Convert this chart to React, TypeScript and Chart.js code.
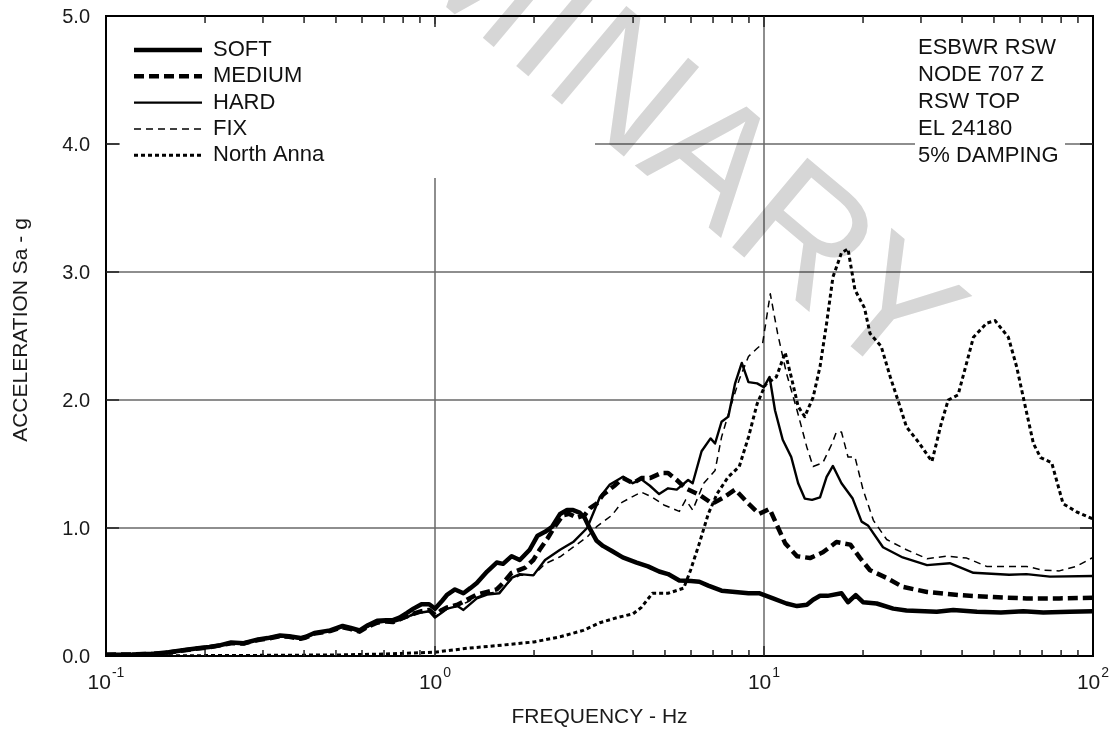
import React, { useEffect, useRef } from 'react';
import { Chart, registerables } from 'chart.js';

Chart.register(...registerables);

// ---------------- DATA ----------------
const softFreq = [0.10, 0.12, 0.14, 0.155, 0.171, 0.19, 0.206, 0.223, 0.24, 0.262, 0.29, 0.31, 0.338, 0.36, 0.39, 0.405, 0.43, 0.48, 0.524, 0.555, 0.59, 0.625, 0.667, 0.71, 0.745, 0.78, 0.82, 0.86, 0.91, 0.96, 1.0, 1.05, 1.09, 1.15, 1.22, 1.28, 1.34, 1.44, 1.54, 1.61, 1.71, 1.81, 1.94, 2.05, 2.16, 2.27, 2.40, 2.52, 2.63, 2.75, 2.85, 2.95, 3.1, 3.24, 3.45, 3.72, 4.1, 4.44, 4.8, 5.11, 5.53, 6.0, 6.36, 6.77, 7.43, 8.17, 8.97, 9.7, 10.65, 11.7, 12.6, 13.5, 14.1, 14.8, 15.6, 17.2, 18.0, 19.0, 20.0, 22.0, 24.7, 27.1, 33.5, 37.6, 44.4, 52.5, 61.4, 70.6, 85, 100];
const softSa = [0.01, 0.012, 0.018, 0.03, 0.045, 0.06, 0.07, 0.085, 0.105, 0.10, 0.13, 0.14, 0.16, 0.155, 0.14, 0.15, 0.18, 0.20, 0.235, 0.22, 0.20, 0.24, 0.275, 0.28, 0.28, 0.30, 0.335, 0.37, 0.405, 0.405, 0.37, 0.43, 0.48, 0.52, 0.49, 0.53, 0.57, 0.66, 0.73, 0.72, 0.78, 0.75, 0.83, 0.94, 0.97, 1.01, 1.11, 1.14, 1.14, 1.12, 1.08, 1.00, 0.90, 0.86, 0.82, 0.77, 0.73, 0.70, 0.66, 0.64, 0.59, 0.585, 0.58, 0.55, 0.51, 0.50, 0.49, 0.49, 0.45, 0.41, 0.39, 0.40, 0.44, 0.47, 0.47, 0.49, 0.42, 0.475, 0.42, 0.41, 0.37, 0.355, 0.345, 0.36, 0.345, 0.34, 0.35, 0.34, 0.345, 0.35];

const mediumFreq = [0.10, 0.12, 0.14, 0.155, 0.171, 0.19, 0.206, 0.223, 0.24, 0.262, 0.29, 0.31, 0.338, 0.36, 0.39, 0.405, 0.43, 0.48, 0.524, 0.555, 0.59, 0.625, 0.667, 0.71, 0.745, 0.78, 0.82, 0.86, 0.91, 0.96, 1.0, 1.05, 1.09, 1.17, 1.25, 1.34, 1.44, 1.54, 1.61, 1.71, 1.88, 1.99, 2.08, 2.2, 2.31, 2.45, 2.56, 2.7, 2.85, 2.96, 3.1, 3.24, 3.51, 3.73, 4.0, 4.24, 4.5, 4.88, 5.11, 5.43, 5.78, 6.36, 6.97, 7.55, 8.17, 8.97, 9.67, 10.4, 11.0, 11.6, 12.6, 13.8, 15.1, 16.6, 18.3, 19.6, 21.0, 23.6, 26.4, 31.3, 39.4, 49.8, 62.8, 79, 100];
const mediumSa = [0.01, 0.012, 0.017, 0.028, 0.043, 0.058, 0.068, 0.083, 0.10, 0.098, 0.125, 0.135, 0.155, 0.15, 0.135, 0.145, 0.175, 0.195, 0.225, 0.21, 0.19, 0.23, 0.26, 0.27, 0.265, 0.285, 0.31, 0.33, 0.35, 0.36, 0.32, 0.36, 0.38, 0.40, 0.44, 0.48, 0.50, 0.52, 0.57, 0.65, 0.69, 0.75, 0.83, 0.92, 1.01, 1.10, 1.11, 1.08, 1.10, 1.155, 1.19, 1.26, 1.33, 1.39, 1.35, 1.39, 1.39, 1.43, 1.43, 1.375, 1.31, 1.26, 1.19, 1.24, 1.30, 1.19, 1.11, 1.15, 1.01, 0.88, 0.78, 0.765, 0.81, 0.89, 0.87, 0.765, 0.67, 0.61, 0.54, 0.50, 0.475, 0.46, 0.45, 0.45, 0.455];

const hardFreq = [0.10, 0.12, 0.14, 0.155, 0.171, 0.19, 0.206, 0.223, 0.24, 0.262, 0.29, 0.31, 0.338, 0.36, 0.39, 0.405, 0.43, 0.48, 0.524, 0.555, 0.59, 0.625, 0.667, 0.71, 0.745, 0.78, 0.82, 0.86, 0.91, 0.96, 1.0, 1.05, 1.09, 1.17, 1.22, 1.34, 1.44, 1.57, 1.71, 1.81, 1.99, 2.16, 2.4, 2.63, 2.9, 3.17, 3.4, 3.73, 3.99, 4.24, 4.5, 4.8, 5.11, 5.43, 5.88, 6.07, 6.46, 6.88, 7.1, 7.43, 7.79, 8.17, 8.56, 8.97, 9.53, 9.99, 10.4, 10.8, 11.4, 12.1, 12.7, 13.3, 14.0, 14.8, 15.5, 16.2, 17.2, 18.6, 19.8, 20.7, 23.0, 26.4, 31.3, 36.7, 43.3, 55.6, 62.8, 74, 100];
const hardSa = [0.01, 0.012, 0.017, 0.028, 0.043, 0.058, 0.068, 0.083, 0.10, 0.098, 0.125, 0.135, 0.155, 0.15, 0.135, 0.145, 0.175, 0.195, 0.225, 0.21, 0.19, 0.23, 0.26, 0.27, 0.265, 0.28, 0.30, 0.33, 0.34, 0.35, 0.30, 0.34, 0.37, 0.39, 0.36, 0.45, 0.48, 0.49, 0.61, 0.64, 0.63, 0.75, 0.83, 0.89, 1.00, 1.24, 1.34, 1.40, 1.35, 1.38, 1.33, 1.265, 1.31, 1.30, 1.375, 1.35, 1.60, 1.70, 1.66, 1.83, 1.87, 2.13, 2.29, 2.14, 2.13, 2.10, 2.18, 1.92, 1.69, 1.555, 1.35, 1.23, 1.22, 1.24, 1.40, 1.485, 1.35, 1.23, 1.05, 1.02, 0.85, 0.77, 0.71, 0.725, 0.65, 0.635, 0.64, 0.62, 0.625];

const fixFreq = [0.10, 0.12, 0.14, 0.155, 0.171, 0.19, 0.206, 0.223, 0.24, 0.262, 0.29, 0.31, 0.338, 0.36, 0.39, 0.405, 0.43, 0.48, 0.524, 0.555, 0.59, 0.625, 0.667, 0.71, 0.745, 0.78, 0.82, 0.86, 0.91, 0.96, 1.0, 1.05, 1.09, 1.17, 1.25, 1.34, 1.44, 1.57, 1.71, 1.81, 1.99, 2.16, 2.4, 2.63, 2.9, 3.1, 3.45, 3.7, 3.95, 4.24, 4.58, 4.96, 5.53, 5.78, 6.07, 6.56, 7.1, 7.43, 7.92, 8.41, 8.97, 9.5, 9.9, 10.45, 11.0, 11.7, 12.6, 13.5, 14.1, 15.1, 16.1, 16.6, 17.2, 18.0, 18.9, 20.0, 21.5, 23.6, 27.1, 31.3, 35.9, 41.3, 47.5, 62.8, 70.6, 79, 89, 100];
const fixSa = [0.01, 0.012, 0.017, 0.028, 0.043, 0.058, 0.068, 0.083, 0.10, 0.098, 0.125, 0.135, 0.155, 0.15, 0.135, 0.145, 0.175, 0.195, 0.225, 0.21, 0.19, 0.23, 0.26, 0.27, 0.265, 0.28, 0.30, 0.32, 0.34, 0.35, 0.31, 0.34, 0.37, 0.39, 0.42, 0.46, 0.49, 0.50, 0.60, 0.63, 0.63, 0.72, 0.775, 0.85, 0.93, 1.01, 1.10, 1.20, 1.24, 1.28, 1.24, 1.18, 1.13, 1.22, 1.14, 1.35, 1.45, 1.71, 1.95, 2.16, 2.34, 2.40, 2.44, 2.83, 2.52, 2.21, 1.92, 1.63, 1.48, 1.51, 1.66, 1.75, 1.75, 1.555, 1.555, 1.30, 1.06, 0.91, 0.83, 0.76, 0.78, 0.765, 0.70, 0.70, 0.67, 0.665, 0.70, 0.77];

const northAnnaFreq = [0.1, 0.2, 0.3, 0.5, 0.7, 1.0, 1.25, 1.6, 2.0, 2.4, 2.82, 3.17, 3.58, 4.0, 4.24, 4.58, 5.11, 5.7, 5.98, 6.36, 6.77, 7.21, 7.79, 8.41, 8.97, 9.53, 10.1, 10.9, 11.6, 12.1, 12.7, 13.3, 14.1, 14.8, 15.5, 16.2, 17.2, 18.0, 18.9, 20.2, 21.0, 22.7, 24.2, 25.9, 27.1, 29.5, 32.4, 34.6, 36.3, 38.9, 41.3, 43.3, 47.5, 50.4, 55.3, 58.6, 62.0, 65.9, 69.3, 74.9, 79.5, 81.1, 89.3, 100];
const northAnnaSa = [0.0, 0.003, 0.005, 0.008, 0.015, 0.03, 0.06, 0.085, 0.11, 0.15, 0.20, 0.26, 0.30, 0.33, 0.38, 0.49, 0.49, 0.53, 0.67, 0.88, 1.11, 1.27, 1.40, 1.48, 1.71, 1.97, 2.12, 2.18, 2.37, 2.18, 1.95, 1.87, 2.02, 2.26, 2.60, 2.96, 3.15, 3.18, 2.86, 2.72, 2.52, 2.42, 2.18, 1.95, 1.79, 1.67, 1.52, 1.82, 2.00, 2.04, 2.29, 2.49, 2.60, 2.62, 2.49, 2.26, 1.97, 1.66, 1.55, 1.51, 1.27, 1.19, 1.125, 1.07];

const seriesLabels = ['SOFT', 'MEDIUM', 'HARD', 'FIX', 'North Anna'];
const infoLines = ['ESBWR RSW', 'NODE 707 Z', 'RSW TOP', 'EL 24180', '5% DAMPING'];
const yTickValues = [0, 1, 2, 3, 4, 5];
const yGridValues = [1, 2, 3, 4];
const xGridValues = [1, 10];
const xDecadeExponents = [-1, 0, 1, 2];
const xTitle = 'FREQUENCY - Hz';
const yTitle = 'ACCELERATION Sa - g';
const watermarkText = 'PRELIMINARY';

const FONT = '"Liberation Sans", Arial, Helvetica, sans-serif';

const styles = [
  { width: 4.5, dash: [] as number[] },
  { width: 4.5, dash: [10, 5] },
  { width: 2.4, dash: [] as number[] },
  { width: 1.5, dash: [7, 5] },
  { width: 3, dash: [4, 3] },
];

function toPoints(f: number[], v: number[]) {
  return f.map((x, i) => ({ x, y: v[i] }));
}

const decorPlugin = {
  id: 'decor',
  beforeDatasetsDraw(chart: any) {
    const { ctx, chartArea: a, scales } = chart;
    const xs = scales.x;
    const ys = scales.y;
    ctx.save();
    // grid lines
    ctx.strokeStyle = '#6a6a6a';
    ctx.lineWidth = 1.5;
    ctx.beginPath();
    for (const v of yGridValues) {
      const py = ys.getPixelForValue(v);
      ctx.moveTo(a.left, py);
      ctx.lineTo(a.right, py);
    }
    for (const v of xGridValues) {
      const px = xs.getPixelForValue(v);
      ctx.moveTo(px, a.top);
      ctx.lineTo(px, a.bottom);
    }
    ctx.stroke();
    // white boxes behind legend and info text
    ctx.fillStyle = '#ffffff';
    ctx.fillRect(a.left + 14, a.top + 8, 475, 154);
    ctx.fillRect(a.right - 178, a.top + 12, 150, 140);
    // watermark
    ctx.globalCompositeOperation = 'multiply';
    ctx.fillStyle = '#d6d6d6';
    ctx.font = `170px ${FONT}`;
    ctx.translate(900, 388);
    ctx.rotate((40 * Math.PI) / 180);
    ctx.textAlign = 'right';
    ctx.textBaseline = 'alphabetic';
    ctx.fillText(watermarkText, 0, 0);
    ctx.restore();
  },
  afterDatasetsDraw(chart: any) {
    const { ctx, chartArea: a, scales } = chart;
    const xs = scales.x;
    const ys = scales.y;
    ctx.save();
    // frame
    ctx.strokeStyle = '#000';
    ctx.lineWidth = 2;
    ctx.strokeRect(a.left, a.top, a.right - a.left, a.bottom - a.top);
    // ticks (inward)
    ctx.strokeStyle = '#222';
    ctx.lineWidth = 1.5;
    ctx.beginPath();
    for (let d = -1; d <= 1; d++) {
      for (let m = 1; m <= 9; m++) {
        const v = m * Math.pow(10, d);
        if (v <= 0.1) continue;
        const px = xs.getPixelForValue(v);
        const len = m === 1 ? 10 : 6;
        ctx.moveTo(px, a.bottom);
        ctx.lineTo(px, a.bottom - len);
        ctx.moveTo(px, a.top);
        ctx.lineTo(px, a.top + len + 1);
      }
    }
    for (const v of yGridValues) {
      const py = ys.getPixelForValue(v);
      ctx.moveTo(a.left, py);
      ctx.lineTo(a.left + 13, py);
      ctx.moveTo(a.right, py);
      ctx.lineTo(a.right - 13, py);
    }
    ctx.stroke();

    // y tick labels
    ctx.fillStyle = '#1a1a1a';
    ctx.font = `20px ${FONT}`;
    ctx.textAlign = 'right';
    ctx.textBaseline = 'middle';
    for (const v of yTickValues) {
      ctx.fillText(v.toFixed(1), a.left - 16, ys.getPixelForValue(v) + 1);
    }
    // x tick labels 10^n
    for (const e of xDecadeExponents) {
      const px = xs.getPixelForValue(Math.pow(10, e));
      ctx.font = `21px ${FONT}`;
      const wb = ctx.measureText('10').width;
      ctx.font = `14px ${FONT}`;
      const sup = String(e);
      const ws = ctx.measureText(sup).width;
      const start = px - (wb + ws + 1) / 2;
      ctx.textAlign = 'left';
      ctx.textBaseline = 'middle';
      ctx.font = `21px ${FONT}`;
      ctx.fillText('10', start, a.bottom + 27);
      ctx.font = `14px ${FONT}`;
      ctx.fillText(sup, start + wb + 1, a.bottom + 17);
    }
    // axis titles
    ctx.font = `21px ${FONT}`;
    ctx.textAlign = 'center';
    ctx.textBaseline = 'middle';
    ctx.fillText(xTitle, (a.left + a.right) / 2, a.bottom + 61);
    ctx.save();
    ctx.translate(21, (a.top + a.bottom) / 2 - 6);
    ctx.rotate(-Math.PI / 2);
    ctx.fillText(yTitle, 0, 0);
    ctx.restore();

    // legend
    const lx0 = a.left + 28;
    const lx1 = a.left + 96;
    chart.data.datasets.forEach((ds: any, i: number) => {
      const y = a.top + 34 + i * 26.3;
      ctx.save();
      ctx.strokeStyle = '#000';
      ctx.lineWidth = ds.borderWidth;
      ctx.setLineDash(ds.borderDash || []);
      ctx.beginPath();
      ctx.moveTo(lx0, y);
      ctx.lineTo(lx1, y);
      ctx.stroke();
      ctx.restore();
      ctx.font = `22px ${FONT}`;
      ctx.textAlign = 'left';
      ctx.textBaseline = 'middle';
      ctx.fillStyle = '#111';
      ctx.fillText(ds.label, a.left + 107, y);
    });

    // info box text
    ctx.font = `22px ${FONT}`;
    infoLines.forEach((t, i) => {
      ctx.fillText(t, a.right - 175, a.top + 32 + i * 27);
    });
    ctx.restore();
  },
};

export default function App() {
  const ref = useRef<HTMLCanvasElement | null>(null);
  useEffect(() => {
    if (!ref.current) return;
    const all = [
      toPoints(softFreq, softSa),
      toPoints(mediumFreq, mediumSa),
      toPoints(hardFreq, hardSa),
      toPoints(fixFreq, fixSa),
      toPoints(northAnnaFreq, northAnnaSa),
    ];
    const chart = new Chart(ref.current, {
      type: 'line',
      data: {
        datasets: all.map((pts, i) => ({
          label: seriesLabels[i],
          data: pts,
          borderColor: '#000',
          backgroundColor: '#000',
          borderWidth: styles[i].width,
          borderDash: styles[i].dash,
          borderJoinStyle: 'round',
          borderCapStyle: 'butt',
          pointRadius: 0,
          fill: false,
          tension: 0,
        })),
      },
      options: {
        responsive: true,
        maintainAspectRatio: false,
        animation: false,
        events: [],
        layout: { padding: { top: 16, right: 22, left: 0, bottom: 0 } },
        plugins: { legend: { display: false }, tooltip: { enabled: false } },
        scales: {
          x: {
            type: 'logarithmic',
            min: 0.1,
            max: 100,
            grid: { display: false },
            border: { display: false },
            ticks: { display: false },
            afterFit: (s: any) => { s.height = 77; },
          },
          y: {
            type: 'linear',
            min: 0,
            max: 5,
            grid: { display: false },
            border: { display: false },
            ticks: { display: false, stepSize: 1 },
            afterFit: (s: any) => { s.width = 106; },
          },
        },
      } as any,
      plugins: [decorPlugin],
    });
    return () => chart.destroy();
  }, []);
  return (
    <div style={{ position: 'absolute', left: 0, top: 0, width: 1115, height: 733, background: '#fff' }}>
      <canvas ref={ref} />
    </div>
  );
}
